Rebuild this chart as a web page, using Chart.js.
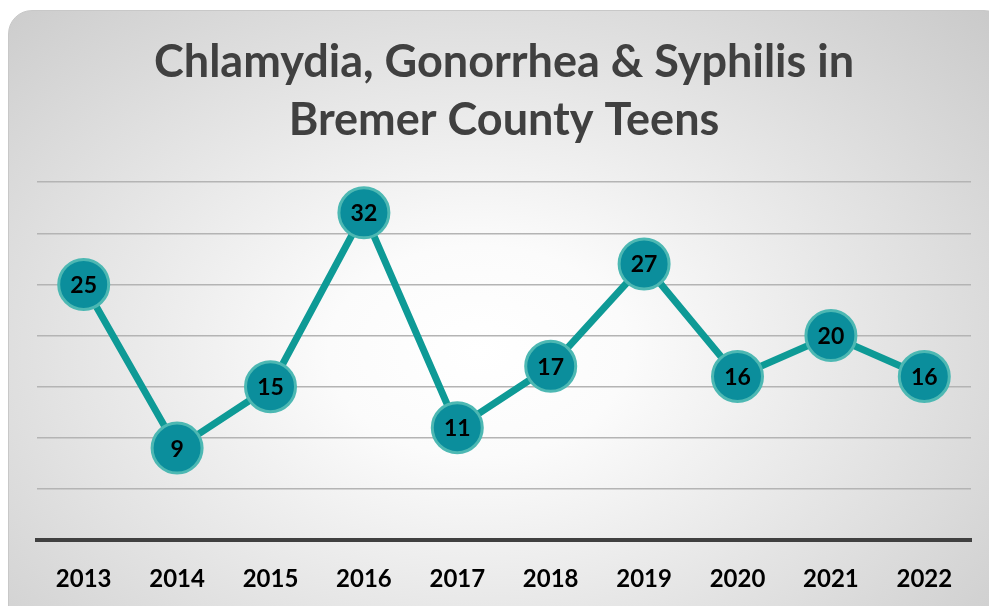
<!DOCTYPE html>
<html>
<head>
<meta charset="utf-8">
<script src="https://cdn.jsdelivr.net/npm/chart.js@4"></script>
<style>
  html, body { margin: 0; padding: 0; background: #ffffff; overflow: hidden; }
  #card {
    position: absolute; left: 8px; top: 10px; width: 1000px; height: 620px;
    border-radius: 24px; border: 1px solid #c8c8c8; box-sizing: border-box;
    background: radial-gradient(ellipse 75% 85% at 47% 55%, #ffffff 0%, #fbfbfb 20%, #c6c6c6 100%);
  }
  #stiChart { position: absolute; left: 0; top: 0; }
</style>
</head>
<body>
<div id="card"></div>
<canvas id="stiChart" width="989" height="619"></canvas>
<script>
// Data
const years = ["2013", "2014", "2015", "2016", "2017", "2018", "2019", "2020", "2021", "2022"];
const cases = [25, 9, 15, 32, 11, 17, 27, 16, 20, 16];
const titleLines = ["Chlamydia, Gonorrhea & Syphilis in", "Bremer County Teens"];

const fontFamily = "Lato, 'Open Sans', sans-serif";

// Labels in the middle of each point
const pointLabels = {
    id: "pointLabels",
    afterDatasetsDraw(chart) {
        const ctx = chart.ctx;
        const meta = chart.getDatasetMeta(0);
        ctx.save();
        ctx.fillStyle = "#000000";
        ctx.font = "bold 23px " + fontFamily;
        ctx.textAlign = "center";
        ctx.textBaseline = "middle";
        meta.data.forEach((pt, i) => {
            ctx.fillText(String(cases[i]), pt.x, pt.y + 1);
        });
        ctx.restore();
    }
};

const ctx = document.getElementById("stiChart").getContext("2d");
new Chart(ctx, {
    type: "line",
    data: {
        labels: years,
        datasets: [{
            data: cases,
            borderColor: "#0E9A96",
            borderWidth: 7,
            pointRadius: 25,
            pointHoverRadius: 25,
            pointBackgroundColor: "#0B8E9C",
            pointBorderColor: "#4DB8B3",
            pointBorderWidth: 3,
            tension: 0,
            clip: false
        }]
    },
    options: {
        responsive: false,
        maintainAspectRatio: false,
        animation: false,
        devicePixelRatio: 1,
        layout: { autoPadding: false, padding: { left: 37, right: 18, top: 0, bottom: 0 } },
        plugins: {
            legend: { display: false },
            tooltip: { enabled: false },
            title: {
                display: true,
                text: titleLines,
                color: "#404040",
                font: { family: fontFamily, size: 45, weight: "bold", lineHeight: 1.29 },
                padding: { top: 33, bottom: 33 }
            }
        },
        scales: {
            x: {
                offset: true,
                grid: { display: false, drawTicks: false },
                border: { display: true, color: "#404040", width: 4 },
                ticks: {
                    color: "#000000",
                    padding: 25,
                    font: { family: fontFamily, size: 24, weight: "bold" }
                }
            },
            y: {
                min: 0,
                max: 35,
                ticks: { display: false, stepSize: 5 },
                border: { display: false },
                grid: {
                    drawTicks: false,
                    color: ctx => ctx.tick.value === 0 ? "rgba(0,0,0,0)" : "#b4b4b4",
                    lineWidth: 1.5
                }
            }
        }
    },
    plugins: [pointLabels]
});
</script>
</body>
</html>
